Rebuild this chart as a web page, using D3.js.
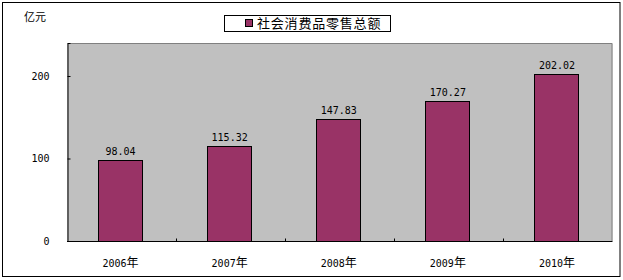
<!DOCTYPE html>
<meta charset="utf-8">
<head>
    <style>
        body { margin: 0; background: #fff; }
        text { font-family: "DejaVu Sans Mono", "Noto Sans CJK SC", monospace; font-size: 10px; fill: #000; }
        .cjk { font-family: "Noto Sans CJK SC", sans-serif; }
    </style>
    <script src="https://d3js.org/d3.v7.min.js"></script>
</head>
<body>
<script>

    var years = ["2006", "2007", "2008", "2009", "2010"];
    var retailSales = [98.04, 115.32, 147.83, 170.27, 202.02];
    var yTicks = [0, 100, 200];
    var seriesName = "社会消费品零售总额";
    var unitLabel = "亿元";
    var yearSuffix = "年";

    var width = 623, height = 280;
    var plot = {left: 67, right: 612.5, top: 43, bottom: 241};

    var svg = d3.select("body").append("svg")
        .attr("width", width)
        .attr("height", height);

    // outer frame
    svg.append("rect")
        .attr("x", 2.5).attr("y", 2.5)
        .attr("width", 617.5).attr("height", 274)
        .attr("fill", "#fff").attr("stroke", "#000").attr("stroke-width", 1);

    var x = d3.scaleBand()
        .domain(years)
        .range([plot.left, plot.right])
        .paddingInner(0.6)
        .paddingOuter(0.3);

    var y = d3.scaleLinear()
        .domain([0, 240])
        .range([plot.bottom, plot.top]);

    // plot background
    svg.append("rect")
        .attr("x", plot.left).attr("y", plot.top)
        .attr("width", plot.right - plot.left).attr("height", plot.bottom - plot.top)
        .attr("fill", "#c0c0c0");
    svg.append("path")
        .attr("d", "M" + plot.left + "," + (plot.top + 0.5) + "H" + (plot.right - 0.5) + "V" + plot.bottom)
        .attr("fill", "none").attr("stroke", "#808080");

    // bars
    svg.append("g").selectAll("rect")
        .data(retailSales)
        .enter().append("rect")
        .attr("x", function (d, i) { return Math.round(x(years[i])) - 1.5; })
        .attr("y", function (d) { return Math.round(y(d)) + 0.5; })
        .attr("width", Math.round(x.bandwidth()))
        .attr("height", function (d) { return Math.round(y(0)) - Math.round(y(d)); })
        .attr("fill", "#993366")
        .attr("stroke", "#000")
        .attr("stroke-width", 1);

    // value labels
    svg.append("g").selectAll("text")
        .data(retailSales)
        .enter().append("text")
        .attr("x", function (d, i) { return x(years[i]) + x.bandwidth() / 2 - 1; })
        .attr("y", function (d) { return y(d) - 5; })
        .attr("text-anchor", "middle")
        .text(function (d) { return d.toFixed(2); });

    // y axis
    var yAxis = d3.axisLeft(y).tickValues(yTicks).tickSize(-3).tickPadding(18);
    var gy = svg.append("g")
        .attr("transform", "translate(" + (plot.left + 0.5) + ",0)")
        .call(yAxis);
    gy.select(".domain").attr("stroke", "#000");
    gy.selectAll("text").style("font-size", "10px").style("font-family", null);

    // x axis: ticks at category boundaries
    var gx = svg.append("g")
        .attr("transform", "translate(0," + (plot.bottom + 0.5) + ")");
    gx.append("line")
        .attr("x1", plot.left).attr("x2", plot.right)
        .attr("stroke", "#000");
    var bound = function (d) {
        return Math.round(plot.left + years.indexOf(d) * (plot.right - plot.left) / years.length) + 0.5;
    };
    gx.selectAll("line.tick")
        .data(years.slice(1))
        .enter().append("line")
        .attr("class", "tick")
        .attr("x1", bound).attr("x2", bound)
        .attr("y1", 0).attr("y2", -3)
        .attr("stroke", "#000");
    var xl = gx.selectAll("text.year")
        .data(years)
        .enter().append("text")
        .attr("class", "year")
        .attr("x", function (d) { return x(d) + x.bandwidth() / 2 - 1; })
        .attr("y", 25)
        .attr("text-anchor", "middle");
    xl.append("tspan").text(function (d) { return d; });
    xl.append("tspan").attr("class", "cjk").style("font-size", "12px").text(yearSuffix);

    // unit label
    svg.append("text")
        .attr("class", "cjk")
        .attr("x", 24).attr("y", 21)
        .style("font-size", "11px")
        .text(unitLabel);

    // legend
    var legend = svg.append("g");
    legend.append("rect")
        .attr("x", 224.5).attr("y", 15.5)
        .attr("width", 166).attr("height", 16)
        .attr("fill", "#fff").attr("stroke", "#000");
    legend.append("rect")
        .attr("x", 245.5).attr("y", 19.5)
        .attr("width", 7).attr("height", 7)
        .attr("fill", "#993366").attr("stroke", "#000");
    legend.append("text")
        .attr("class", "cjk")
        .attr("x", 257).attr("y", 28)
        .style("font-size", "13px")
        .style("letter-spacing", "0.8px")
        .text(seriesName);

</script>
</body>
</html>
